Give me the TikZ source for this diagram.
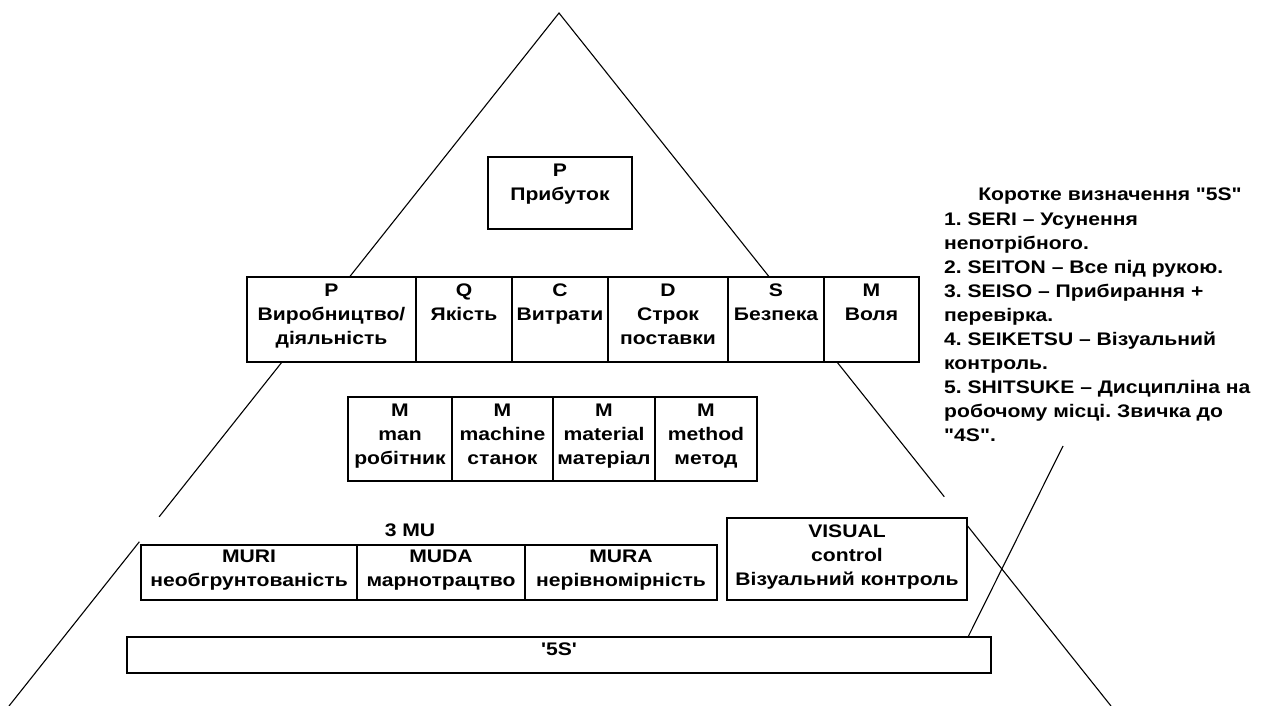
\documentclass[tikz,border=0pt]{standalone}
\usepackage{fontspec}
\setmainfont[FakeStretch=1.16, Ligatures=TeXOff]{Liberation Sans}
\usetikzlibrary{positioning,calc}
\frenchspacing

\tikzset{
	cell/.style={draw, line width=1.6pt, fill=white, inner sep=0pt, outer sep=0pt},
	celltext/.style={anchor=north, align=center, inner xsep=0pt, inner ysep=7pt},
	side/.style={line width=1.1pt}
}

\begin{document}
\begin{tikzpicture}[x=1pt, y=-1pt, font=\fontsize{18.2}{24}\selectfont\bfseries]
	\useasboundingbox (0,0) rectangle (1261,706);

	%Triangle
	\coordinate (apex) at (559,13);
	\coordinate (baseL) at (9,706);
	\coordinate (baseR) at (1111,706);
	\draw[side] ($(apex)!0.727!(baseL)$) -- (apex) -- ($(apex)!0.698!(baseR)$);
	\draw[side] ($(apex)!0.763!(baseL)$) -- (baseL);
	\draw[side] ($(apex)!0.729!(baseR)$) -- (baseR);

	%Top
	\node[cell, anchor=north west, minimum width=144, minimum height=72,
		label={[celltext]north:{P\\Прибуток}}] (profit) at (488,157) {};

	%Row of goals
	\node[cell, anchor=north west, minimum width=169, minimum height=85,
		label={[celltext]north:{P\\Виробництво/\\діяльність}}] (prod) at (247,277) {};
	\node[cell, right=0pt of prod, minimum width=96, minimum height=85,
		label={[celltext]north:{Q\\Якість}}] (qual) {};
	\node[cell, right=0pt of qual, minimum width=96, minimum height=85,
		label={[celltext]north:{C\\Витрати}}] (cost) {};
	\node[cell, right=0pt of cost, minimum width=120, minimum height=85,
		label={[celltext]north:{D\\Строк\\поставки}}] (deliv) {};
	\node[cell, right=0pt of deliv, minimum width=96, minimum height=85,
		label={[celltext]north:{S\\Безпека}}] (safe) {};
	\node[cell, right=0pt of safe, minimum width=95, minimum height=85,
		label={[celltext]north:{M\\Воля}}] (will) {};

	%4 M
	\node[cell, anchor=north west, minimum width=104, minimum height=84,
		label={[celltext]north:{M\\man\\робітник}}] (man) at (348,397) {};
	\node[cell, right=0pt of man, minimum width=101, minimum height=84,
		label={[celltext]north:{M\\machine\\станок}}] (machine) {};
	\node[cell, right=0pt of machine, minimum width=102, minimum height=84,
		label={[celltext]north:{M\\material\\матеріал}}] (material) {};
	\node[cell, right=0pt of material, minimum width=102, minimum height=84,
		label={[celltext]north:{M\\method\\метод}}] (method) {};

	%3 MU
	\node (mu3) at (410,530) {3 MU};
	\node[cell, anchor=north west, minimum width=216, minimum height=55,
		label={[celltext, inner ysep=5pt]north:{MURI\\необгрунтованість}}] (muri) at (141,545) {};
	\node[cell, right=0pt of muri, minimum width=168, minimum height=55,
		label={[celltext, inner ysep=5pt]north:{MUDA\\марнотрацтво}}] (muda) {};
	\node[cell, right=0pt of muda, minimum width=192, minimum height=55,
		label={[celltext, inner ysep=5pt]north:{MURA\\нерівномірність}}] (mura) {};

	\node[cell, anchor=north west, minimum width=240, minimum height=82,
		label={[celltext]north:{VISUAL\\control\\Візуальний контроль}}] (visual) at (727,518) {};

	%5S
	\node[cell, anchor=north west, minimum width=864, minimum height=36,
		label={[celltext, inner ysep=6pt]north:{'5S'}}] (fives) at (127,637) {};

	%Note
	\node[anchor=north, inner sep=0pt] (notetitle) at (1110,188) {Коротке визначення "5S"};
	\node[anchor=north west, align=left, inner sep=0pt] (note) at (944,213) {1. SERI – Усунення\\непотрібного.\\2. SEITON – Все під рукою.\\3. SEISO – Прибирання +\\перевірка.\\4. SEIKETSU – Візуальний\\контроль.\\5. SHITSUKE – Дисципліна на\\робочому місці. Звичка до\\"4S".};
	\coordinate (noteend) at (1063,446);
	\draw[side] ($(fives.north east)+(-23,0)$) -- (noteend);
\end{tikzpicture}
\end{document}
